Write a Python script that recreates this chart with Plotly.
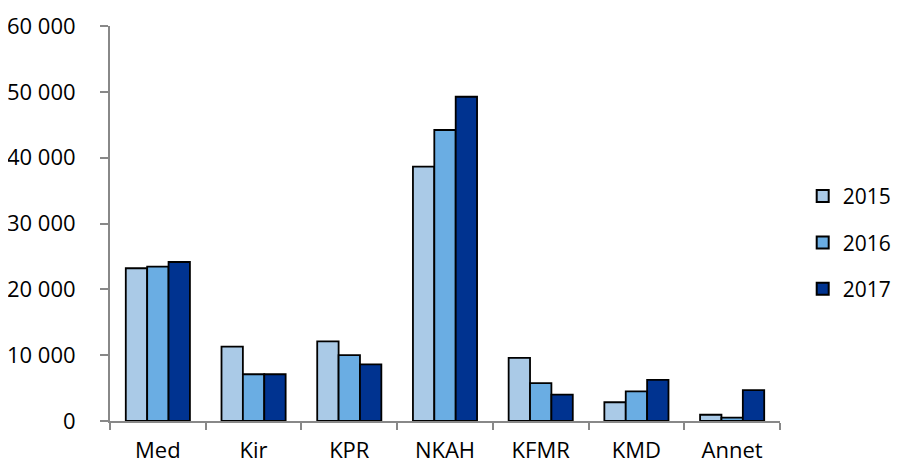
import plotly.graph_objects as go

categories = ["Med", "Kir", "KPR", "NKAH", "KFMR", "KMD", "Annet"]
years = ["2015", "2016", "2017"]
v2015 = [23200, 11300, 12100, 38650, 9600, 2850, 950]
v2016 = [23450, 7100, 10000, 44200, 5750, 4500, 500]
v2017 = [24150, 7100, 8600, 49250, 4000, 6250, 4700]
series = [v2015, v2016, v2017]
colors = ["#AACAE7", "#6AADE3", "#003390"]
yticks = [0, 10000, 20000, 30000, 40000, 50000, 60000]

fig = go.Figure()
for name, vals, col in zip(years, series, colors):
    fig.add_trace(go.Bar(
        x=categories, y=vals, name=name, legendgroup=name,
        marker=dict(color=col, line=dict(color="#000000", width=1.8)),
    ))

axis_col = "#888888"
fig.update_layout(
    width=900, height=456,
    margin=dict(l=102, r=128, t=18, b=43),
    paper_bgcolor="white", plot_bgcolor="white",
    barmode="group", bargap=0.33, bargroupgap=0,
    separators=", ",
    font=dict(family="Open Sans, Liberation Sans, sans-serif", size=22, color="#000000"),
    legend=dict(xref="container", x=0.883, y=0.452, xanchor="left", yanchor="middle",
                font=dict(size=21), tracegroupgap=16, itemsizing="constant",
                traceorder="grouped", bgcolor="rgba(0,0,0,0)"),
    xaxis=dict(showline=True, linecolor=axis_col, linewidth=2,
               ticks="outside", tickson="boundaries", ticklen=7,
               tickcolor=axis_col, tickwidth=2, showgrid=False,
               automargin=False, ticklabelstandoff=9),
    yaxis=dict(range=[0, 60000], tickvals=yticks, tickformat=",d",
               showline=True, linecolor=axis_col, linewidth=2,
               ticks="outside", ticklen=8, tickcolor=axis_col, tickwidth=2,
               showgrid=False, zeroline=False, automargin=False,
               ticklabelstandoff=20),
)
fig.write_html("out.html")
